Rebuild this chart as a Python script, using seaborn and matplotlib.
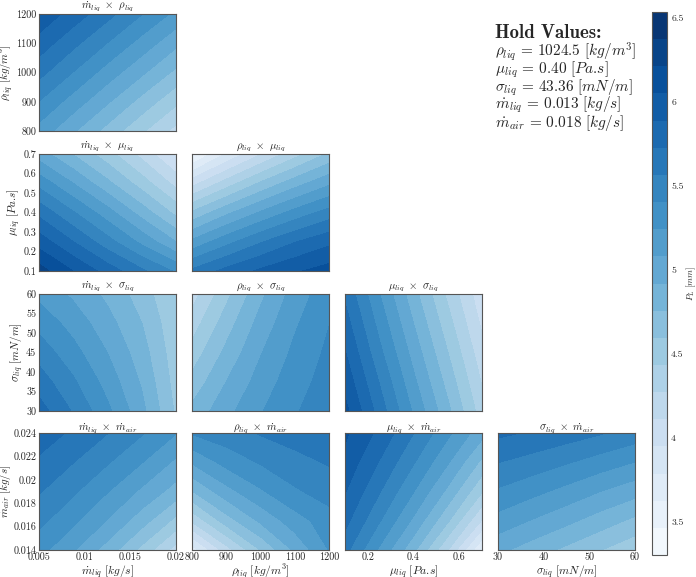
import numpy as np
import matplotlib
matplotlib.use('Agg')
import matplotlib.pyplot as plt
from matplotlib.ticker import FuncFormatter
import seaborn as sns

sns.set_style('ticks')
plt.rcParams['font.family'] = 'serif'
plt.rcParams['font.serif'] = ['cmr10']
plt.rcParams['mathtext.fontset'] = 'cm'
plt.rcParams['axes.formatter.use_mathtext'] = True

# Grid of each input variable ------------------------------------------------
mliq_grid = [0.005, 0.00875, 0.0125, 0.01625, 0.02]
rho_grid = [800, 900, 1000, 1100, 1200]
mu_grid = [0.1, 0.25, 0.4, 0.55, 0.7]
sigma_grid = [30, 37.5, 45, 52.5, 60]
mair_grid = [0.014, 0.0165, 0.019, 0.0215, 0.024]

# P_L [mm] (rows = y from low to high, cols = x) ----------------------------
pl_mliq_rho = [[5.18, 4.94, 4.70, 4.46, 4.22],
               [5.40, 5.17, 4.94, 4.70, 4.47],
               [5.62, 5.40, 5.17, 4.95, 4.72],
               [5.82, 5.61, 5.40, 5.18, 4.96],
               [6.02, 5.82, 5.62, 5.41, 5.20]]

pl_mliq_mu = [[6.28, 6.05, 5.82, 5.60, 5.38],
              [5.98, 5.73, 5.47, 5.20, 4.92],
              [5.68, 5.42, 5.15, 4.85, 4.55],
              [5.35, 5.08, 4.80, 4.52, 4.22],
              [5.00, 4.75, 4.50, 4.22, 3.92]]

pl_rho_mu = [[5.60, 5.78, 5.92, 6.03, 6.12],
             [5.12, 5.35, 5.55, 5.72, 5.85],
             [4.62, 4.88, 5.10, 5.30, 5.47],
             [4.05, 4.35, 4.62, 4.85, 5.05],
             [3.42, 3.80, 4.10, 4.37, 4.62]]

pl_mliq_sigma = [[5.80, 5.55, 5.28, 4.97, 4.57],
                 [5.65, 5.43, 5.18, 4.90, 4.53],
                 [5.50, 5.30, 5.08, 4.83, 4.50],
                 [5.35, 5.18, 4.98, 4.76, 4.47],
                 [5.20, 5.05, 4.88, 4.68, 4.43]]

pl_rho_sigma = [[4.80, 5.03, 5.23, 5.39, 5.50],
                [4.65, 4.92, 5.15, 5.34, 5.47],
                [4.50, 4.80, 5.07, 5.28, 5.44],
                [4.35, 4.68, 4.98, 5.22, 5.40],
                [4.20, 4.55, 4.88, 5.15, 5.35]]

pl_mu_sigma = [[6.10, 5.66, 5.22, 4.80, 4.35],
               [6.00, 5.56, 5.12, 4.70, 4.26],
               [5.90, 5.45, 5.02, 4.60, 4.17],
               [5.80, 5.35, 4.92, 4.50, 4.08],
               [5.70, 5.25, 4.82, 4.40, 4.00]]

pl_mliq_mair = [[5.30, 5.10, 4.85, 4.55, 4.20],
                [5.45, 5.28, 5.07, 4.83, 4.55],
                [5.58, 5.43, 5.25, 5.05, 4.85],
                [5.70, 5.57, 5.42, 5.25, 5.05],
                [5.82, 5.70, 5.57, 5.42, 5.25]]

pl_rho_mair = [[3.70, 4.20, 4.60, 4.95, 5.25],
               [4.30, 4.68, 4.95, 5.17, 5.33],
               [4.75, 5.02, 5.22, 5.38, 5.48],
               [5.10, 5.30, 5.42, 5.52, 5.58],
               [5.42, 5.50, 5.58, 5.63, 5.65]]

pl_mu_mair = [[5.62, 5.22, 4.80, 4.28, 3.62],
              [5.78, 5.42, 5.05, 4.62, 4.10],
              [5.90, 5.58, 5.25, 4.88, 4.45],
              [6.00, 5.72, 5.42, 5.10, 4.72],
              [6.08, 5.85, 5.57, 5.28, 4.98]]

pl_sigma_mair = [[4.96, 4.84, 4.72, 4.60, 4.48],
                 [5.18, 5.07, 4.96, 4.84, 4.72],
                 [5.38, 5.29, 5.19, 5.08, 4.98],
                 [5.57, 5.50, 5.42, 5.33, 5.24],
                 [5.76, 5.71, 5.65, 5.58, 5.50]]

hold_title = 'Hold Values:'
hold_lines = [r'$\rho_{liq}\,=\,1024.5\ [kg/m^3]$',
              r'$\mu_{liq}\,=\,0.40\ [Pa.\!s]$',
              r'$\sigma_{liq}\,=\,43.36\ [mN/m]$',
              r'$\dot{m}_{liq}\,=\,0.013\ [kg/s]$',
              r'$\dot{m}_{air}\,=\,0.018\ [kg/s]$']

cbar_ticks = [3.5, 4, 4.5, 5, 5.5, 6, 6.5]

# variable info: grid, symbol, unit, x ticks, y ticks ------------------------
variables = {
    'mliq': (mliq_grid, r'\dot{m}_{liq}', r'[kg/s]',
             [0.005, 0.01, 0.015, 0.02], None),
    'rho': (rho_grid, r'\rho_{liq}', r'[kg/m^3]',
            [800, 900, 1000, 1100, 1200], [800, 900, 1000, 1100, 1200]),
    'mu': (mu_grid, r'\mu_{liq}', r'[Pa.\!s]',
           [0.2, 0.4, 0.6], [0.1, 0.2, 0.3, 0.4, 0.5, 0.6, 0.7]),
    'sigma': (sigma_grid, r'\sigma_{liq}', r'[mN/m]',
              [30, 40, 50, 60], [30, 35, 40, 45, 50, 55, 60]),
    'mair': (mair_grid, r'\dot{m}_{air}', r'[kg/s]',
             None, [0.014, 0.016, 0.018, 0.02, 0.022, 0.024]),
}

# (row, col, x var, y var, data)
panels = [
    (0, 0, 'mliq', 'rho', pl_mliq_rho),
    (1, 0, 'mliq', 'mu', pl_mliq_mu),
    (1, 1, 'rho', 'mu', pl_rho_mu),
    (2, 0, 'mliq', 'sigma', pl_mliq_sigma),
    (2, 1, 'rho', 'sigma', pl_rho_sigma),
    (2, 2, 'mu', 'sigma', pl_mu_sigma),
    (3, 0, 'mliq', 'mair', pl_mliq_mair),
    (3, 1, 'rho', 'mair', pl_rho_mair),
    (3, 2, 'mu', 'mair', pl_mu_mair),
    (3, 3, 'sigma', 'mair', pl_sigma_mair),
]

# layout in pixels ------------------------------------------------------------
W, H = 696, 577
col_left = [39, 192, 345, 498]
row_top = [14, 154, 294, 433]
ax_w, ax_h = 137, 117

levels = np.linspace(3.304, 6.536, 21)
cmap = sns.color_palette('Blues', as_cmap=True)
fmt = FuncFormatter(lambda v, p: '%g' % v)

fig = plt.figure(figsize=(W / 100, H / 100), dpi=100)

cs = None
for row, col, xv, yv, z in panels:
    ax = fig.add_axes([col_left[col] / W, 1 - (row_top[row] + ax_h) / H,
                       ax_w / W, ax_h / H])
    xg, xsym, xunit, xticks, _ = variables[xv]
    yg, ysym, yunit, _, yticks = variables[yv]
    cs = ax.contourf(xg, yg, np.array(z), levels=levels, cmap=cmap)
    ax.set_xlim(xg[0], xg[-1])
    ax.set_ylim(yg[0], yg[-1])
    ax.set_xticks(xticks)
    ax.set_yticks(yticks)
    ax.xaxis.set_major_formatter(fmt)
    ax.yaxis.set_major_formatter(fmt)
    ax.tick_params(direction='in', top=True, right=True, length=2.5,
                   width=0.6, labelsize=7.3, color='#444444', pad=2)
    for s in ax.spines.values():
        s.set_color('#555555')
        s.set_linewidth(0.8)
    ax.set_title(r'$%s\ \times\ %s$' % (xsym, ysym), fontsize=7.8,
                 pad=0.8 if row == 0 else 1.5)
    if col == 0:
        ax.set_ylabel(r'$%s\ %s$' % (ysym, yunit), fontsize=8, labelpad=0)
    else:
        ax.set_yticklabels([])
    if row == 3:
        ax.set_xlabel(r'$%s\ %s$' % (xsym, xunit), fontsize=8.3, labelpad=0.5)
    else:
        ax.set_xticklabels([])

# colorbar --------------------------------------------------------------------
cax = fig.add_axes([652 / W, 1 - 555 / H, 15 / W, 543 / H])
cb = fig.colorbar(cs, cax=cax)
cb.set_ticks(cbar_ticks)
cb.ax.yaxis.set_major_formatter(fmt)
cb.ax.tick_params(direction='in', length=3, width=0.6, labelsize=7,
                  color='#444444', pad=3)
cb.outline.set_edgecolor('#555555')
cb.outline.set_linewidth(0.8)
cb.set_label(r'$P_L\ [mm]$', fontsize=6.5, labelpad=1)

# hold values text -----------------------------------------------------------
fig.text(495 / W, 1 - 33 / H, hold_title, fontsize=13.5, family='cmb10',
         va='center', ha='left')
for i, line in enumerate(hold_lines):
    fig.text(495 / W, 1 - (52 + 17.7 * i) / H, line, fontsize=11,
             va='center', ha='left')

fig.savefig('out.png', dpi=100)
